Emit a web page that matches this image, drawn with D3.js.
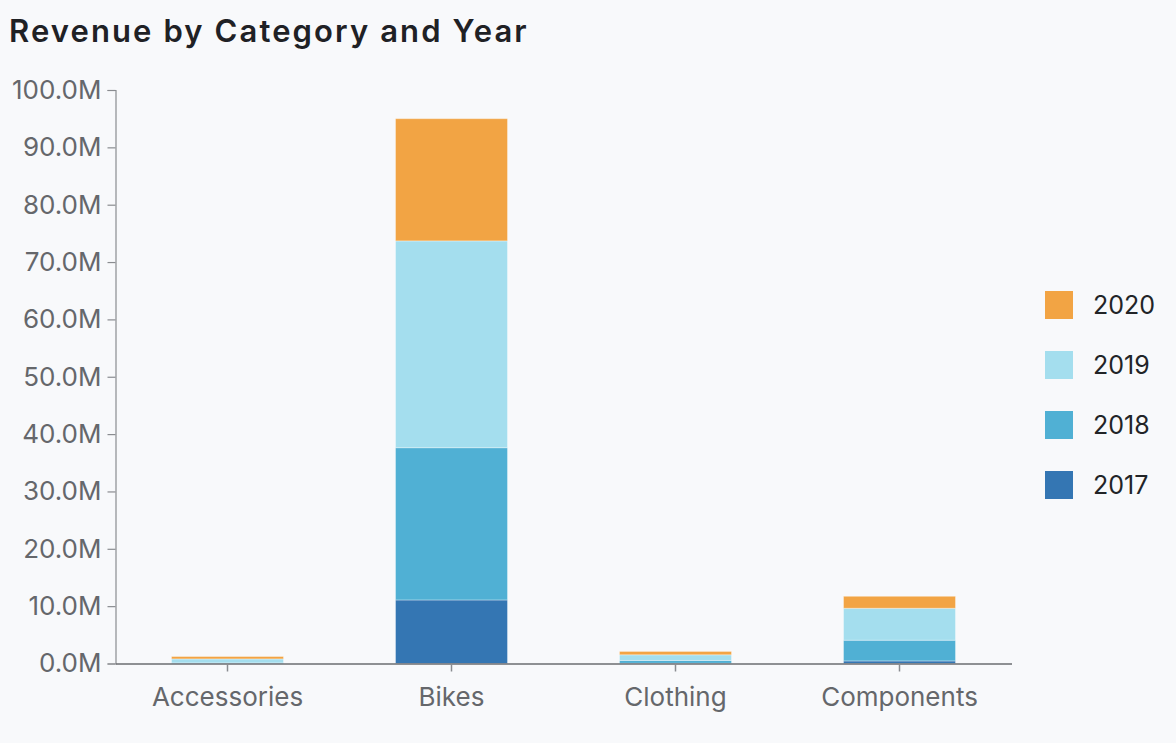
<!DOCTYPE html>
<html>
<head>
<meta charset="utf-8">
<script src="https://cdn.jsdelivr.net/npm/d3@7"></script>
<style>
  html, body { margin: 0; padding: 0; background: #f8f9fb; }
  svg { display: block; }
</style>
</head>
<body>
<svg id="chart" width="1176" height="743"></svg>
<script>
const categories = ["Accessories", "Bikes", "Clothing", "Components"];
const years = ["2017", "2018", "2019", "2020"];
const revenue2017 = [0.0, 11.08, 0.03, 0.45];
const revenue2018 = [0.1, 26.55, 0.5, 3.61];
const revenue2019 = [0.7, 36.06, 0.99, 5.57];
const revenue2020 = [0.42, 21.31, 0.58, 2.09];
const yTicks = [0, 10, 20, 30, 40, 50, 60, 70, 80, 90, 100];
const yearColors = ["#3476b3", "#50b0d4", "#a4deee", "#f2a444"];

const seriesValues = [revenue2017, revenue2018, revenue2019, revenue2020];
const rows = categories.map((c, i) => {
  const r = { category: c };
  years.forEach((y, j) => { r[y] = seriesValues[j][i]; });
  return r;
});

const svg = d3.select("#chart");
const margin = { top: 90, left: 115.5, right: 164.5, bottom: 79.5 };
const W = 1176, H = 743;

svg.append("text")
  .attr("x", 9).attr("y", 42)
  .attr("font-family", "Inter, 'Open Sans', sans-serif")
  .attr("font-weight", 600)
  .attr("font-size", 31)
  .attr("letter-spacing", 2.1)
  .attr("fill", "#1f2125")
  .text("Revenue by Category and Year");

const x = d3.scaleBand()
  .domain(categories)
  .range([margin.left, W - margin.right])
  .paddingInner(0.5)
  .paddingOuter(0.25);

const y = d3.scaleLinear()
  .domain([0, 100])
  .range([H - margin.bottom, margin.top]);

const stack = d3.stack().keys(years);
const stacked = stack(rows);
const color = d3.scaleOrdinal().domain(years).range(yearColors);

svg.append("g")
  .selectAll("g")
  .data(stacked)
  .join("g")
  .attr("fill", d => color(d.key))
  .selectAll("rect")
  .data(d => d)
  .join("rect")
  .attr("x", d => x(d.data.category))
  .attr("width", x.bandwidth())
  .attr("y", d => y(d[1]))
  .attr("height", d => Math.max(0, y(d[0]) - y(d[1])))
  .attr("stroke", "#ffffff")
  .attr("stroke-opacity", 0.35)
  .attr("stroke-width", 1);

const fontAxis = "Inter, 'Noto Sans', sans-serif";

const yAxis = svg.append("g")
  .attr("transform", `translate(${margin.left},0)`)
  .call(d3.axisLeft(y).tickValues(yTicks).tickSize(8).tickPadding(6)
    .tickFormat(v => d3.format(".1f")(v) + "M"));
yAxis.selectAll("text")
  .attr("font-family", fontAxis).attr("font-size", 26).attr("fill", "#65676b");
yAxis.selectAll("line").attr("stroke", "#8a8c90").attr("stroke-width", 1.2);
yAxis.select(".domain").attr("stroke", "#8a8c90").attr("stroke-width", 1.2);

const xAxis = svg.append("g")
  .attr("transform", `translate(0,${H - margin.bottom})`)
  .call(d3.axisBottom(x).tickSize(8).tickSizeOuter(0).tickPadding(16));
xAxis.selectAll("text")
  .attr("font-family", fontAxis).attr("font-size", 26).attr("fill", "#65676b");
xAxis.selectAll("line").attr("stroke", "#8a8c90").attr("stroke-width", 1.5);
xAxis.select(".domain").attr("stroke", "#6b6d71").attr("stroke-width", 1.5);

const legendYears = years.slice().reverse();
const legend = svg.append("g")
  .selectAll("g")
  .data(legendYears)
  .join("g")
  .attr("transform", (d, i) => `translate(1045,${291 + i * 60})`);
legend.append("rect")
  .attr("width", 28).attr("height", 28)
  .attr("fill", d => color(d));
legend.append("text")
  .attr("x", 48).attr("y", 14).attr("dy", "0.35em")
  .attr("font-family", fontAxis).attr("font-size", 25)
  .attr("fill", "#222427")
  .text(d => d);
</script>
</body>
</html>
